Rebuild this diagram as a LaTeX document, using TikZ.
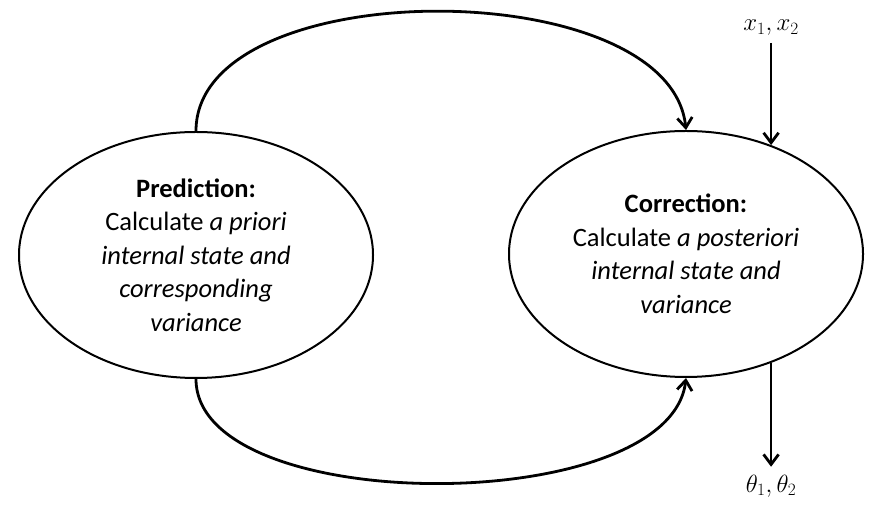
\documentclass[tikz,border=0pt]{standalone}
\usepackage{fontspec}
\setmainfont{Carlito}
\usetikzlibrary{shapes.geometric,arrows.meta}
\tikzset{
  phase/.style={ellipse, draw, line width=2pt, minimum width=354pt,
    minimum height=246pt, inner sep=0pt, align=center,
    font=\fontsize{26.5}{33.5}\selectfont},
  loop/.style={line width=2.8pt, -{Straight Barb[length=10pt,width=15pt]}},
  signal/.style={line width=2.8pt, -{Straight Barb[length=10pt,width=15pt]}},
  sig/.style={font=\fontsize{27}{30}\selectfont, inner sep=2pt}
}
\begin{document}
\begin{tikzpicture}[x=1pt,y=1pt]
  \useasboundingbox (0,0) rectangle (869,505);
  \node[phase] (pred) at (196,250) {\textbf{Prediction:}\\ Calculate \textit{a priori}\\
    \textit{internal state and}\\ \textit{corresponding}\\ \textit{variance}};
  \node[phase] (corr) at (686,251) {\textbf{Correction:}\\ Calculate \textit{a posteriori}\\
    \textit{internal state and}\\ \textit{variance}};
  \node[sig] (xin) at (corr.52 |- 0,477) {$x_1,x_2$};
  \node[sig] (thout) at (corr.-52 |- 0,19) {$\theta_1,\theta_2$};
  % loop between the two phases
  \draw[loop] (pred.north) .. controls (196,533) and (670,533) .. (corr.north);
  \draw[loop] (pred.south) .. controls (196,-13) and (670,-13) .. (corr.south);
  % measurements in, estimates out
  \draw[signal, shorten <=5pt] (xin) -- (corr.52);
  \draw[signal, shorten >=6pt] (corr.-52) -- (thout);
\end{tikzpicture}
\end{document}
